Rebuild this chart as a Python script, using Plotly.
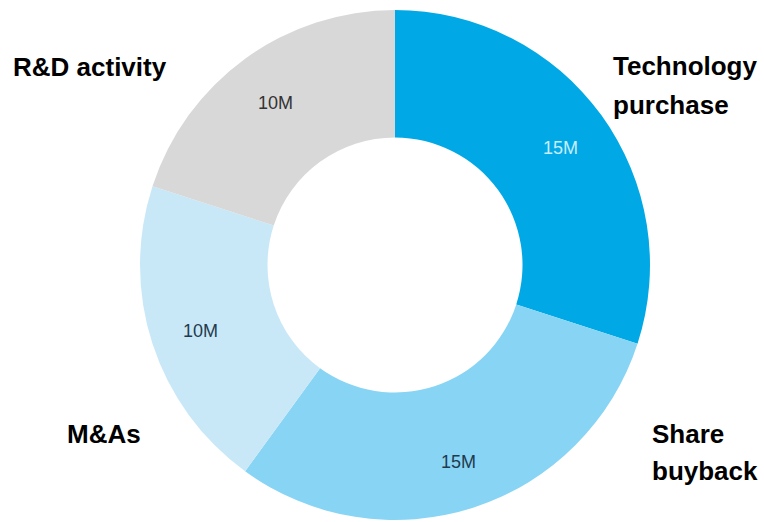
import math
import plotly.graph_objects as go

W, H = 764, 522

# Spending breakdown (millions)
categories = ["Technology purchase", "Share buyback", "M&As", "R&D activity"]
values = [15, 15, 10, 10]
slice_colors = ["#00a9e6", "#88d4f5", "#c9e8f7", "#d8d8d8"]
value_text_colors = ["#c9ecfb", "#1f3b4f", "#1f3b4f", "#333333"]

# Outside category captions, split across lines
caption_lines = [
    ("R&D activity", 11, 67),
    ("Technology", 611, 66),
    ("purchase", 611, 105),
    ("Share", 650, 434),
    ("buyback", 650, 471),
    ("M&As", 65, 434),
]

# Donut placement in pixels: center and outer radius
cx, cy, r = 395, 265, 255
hole = 0.5
label_radius = 0.8  # value labels sit on this fraction of the outer radius

fig = go.Figure(
    go.Pie(
        labels=categories,
        values=values,
        hole=hole,
        sort=False,
        direction="clockwise",
        rotation=0,
        marker=dict(colors=slice_colors, line=dict(width=0)),
        textinfo="none",
        hoverinfo="skip",
        showlegend=False,
        domain=dict(
            x=[(cx - r) / W, (cx + r) / W],
            y=[1 - (cy + r) / H, 1 - (cy - r) / H],
        ),
    )
)

# Value labels at the middle angle of each slice (clockwise from 12 o'clock)
total = sum(values)
start = 0.0
for v, col in zip(values, value_text_colors):
    mid = (start + v / 2) / total * 2 * math.pi
    start += v
    px = cx + label_radius * r * math.sin(mid)
    py = cy - label_radius * r * math.cos(mid)
    fig.add_annotation(
        text=f"{v}M",
        x=px / W,
        y=1 - py / H,
        xref="paper",
        yref="paper",
        xanchor="center",
        yanchor="middle",
        yshift=-3,
        showarrow=False,
        font=dict(family="Liberation Sans, Arial", size=18, color=col),
    )

for text, px, py in caption_lines:
    fig.add_annotation(
        text=text,
        x=px / W,
        y=1 - py / H,
        xref="paper",
        yref="paper",
        xanchor="left",
        yanchor="middle",
        showarrow=False,
        font=dict(family="Liberation Sans, Arial", size=26, color="#000000", weight="bold"),
    )

fig.update_layout(
    width=W,
    height=H,
    margin=dict(l=0, r=0, t=0, b=0),
    paper_bgcolor="#ffffff",
    plot_bgcolor="#ffffff",
)

fig.write_html("out.html")
